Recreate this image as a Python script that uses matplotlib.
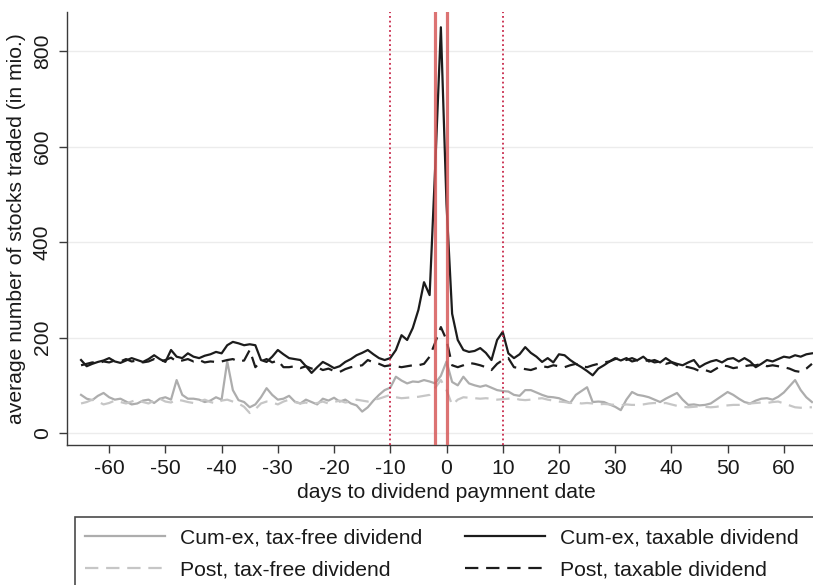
import numpy as np
import matplotlib
matplotlib.use("Agg")
import matplotlib.pyplot as plt
from matplotlib.patches import Rectangle

plt.rcParams['font.family'] = ['Liberation Sans', 'DejaVu Sans']
plt.rcParams['axes.unicode_minus'] = False

days = list(range(-65, 66))

cumex_taxable = [
    153, 140, 145, 149, 152, 157, 150, 147, 152, 157,
    153, 149, 155, 163, 155, 149, 174, 160, 157, 167,
    160, 157, 162, 165, 170, 167, 184, 191, 188, 184,
    186, 184, 153, 149, 160, 174, 165, 157, 155, 153,
    140, 126, 138, 149, 143, 136, 140, 149, 155, 163,
    168, 174, 165, 157, 153, 157, 174, 205, 195, 220,
    258, 316, 289, 560, 850, 480, 250, 195, 174, 170,
    172, 178, 168, 153, 195, 212, 167, 157, 165, 180,
    168, 160, 149, 157, 148, 165, 163, 153, 145, 138,
    130, 121, 135, 142, 150, 157, 152, 157, 150, 153,
    160, 150, 153, 148, 157, 149, 145, 142, 148, 153,
    138, 145, 150, 153, 148, 155, 157, 150, 157, 150,
    138, 145, 153, 150, 155, 160, 158, 163, 160, 165,
    167]

post_taxable = [
    142, 145, 148, 146, 150, 148, 152, 150, 155, 150,
    152, 148, 150, 155, 150, 153, 158, 150, 152, 155,
    150, 153, 148, 150, 149, 150, 153, 155, 150, 152,
    174, 138, 150, 155, 148, 152, 138, 138, 140, 136,
    140, 135, 138, 132, 135, 130, 128, 134, 138, 140,
    142, 153, 148, 145, 140, 142, 140, 138, 140, 142,
    142, 145, 160, 190, 222, 195, 142, 138, 142, 147,
    145, 142, 138, 132, 145, 153, 157, 138, 136, 134,
    132, 136, 140, 138, 142, 140, 138, 142, 145, 140,
    138, 142, 145, 148, 150, 155, 157, 153, 157, 152,
    150, 153, 148, 150, 145, 148, 142, 140, 138, 135,
    130, 132, 128, 135, 142, 140, 136, 138, 140, 142,
    142, 145, 140, 142, 140, 138, 135, 130, 128, 135,
    145]

cumex_taxfree = [
    80, 72, 69, 78, 84, 75, 70, 72, 66, 60,
    62, 68, 70, 63, 72, 75, 70, 111, 80, 72,
    72, 70, 65, 68, 75, 70, 150, 90, 69, 65,
    54, 60, 75, 94, 80, 70, 72, 78, 66, 62,
    70, 65, 60, 72, 68, 74, 66, 70, 62, 58,
    45, 54, 68, 80, 90, 95, 118, 110, 104, 108,
    107, 111, 108, 104, 120, 150, 107, 100, 118, 104,
    100, 97, 100, 95, 90, 88, 87, 80, 78, 90,
    90, 85, 80, 76, 75, 73, 68, 63, 80, 88,
    96, 65, 66, 65, 60, 55, 48, 70, 86, 80,
    78, 75, 70, 65, 72, 78, 84, 70, 59, 60,
    58, 59, 62, 70, 78, 86, 80, 72, 65, 62,
    68, 72, 73, 70, 76, 85, 98, 111, 90, 75,
    65]

post_taxfree = [
    62, 65, 70, 66, 60, 63, 68, 65, 62, 66,
    70, 65, 62, 68, 72, 66, 64, 70, 68, 65,
    63, 66, 70, 65, 62, 68, 70, 66, 62, 55,
    42, 50, 62, 66, 64, 60, 66, 70, 65, 62,
    64, 60, 63, 66, 62, 65, 68, 64, 66, 70,
    68, 66, 70, 72, 76, 80, 75, 73, 74, 75,
    76, 78, 80, 95, 111, 90, 59, 70, 75, 74,
    73, 72, 73, 72, 70, 71, 72, 73, 70, 69,
    70, 72, 73, 70, 68, 66, 65, 63, 64, 62,
    63, 62, 60, 61, 60, 59, 58, 60, 59, 59,
    60, 62, 63, 62, 63, 60, 57, 55, 54, 55,
    56, 55, 54, 55, 57, 58, 59, 59, 60, 62,
    63, 64, 63, 65, 66, 62, 58, 54, 53, 54,
    54]

solid_event_days = [-2, 0]
dotted_event_days = [-10, 10]
xticks = list(range(-60, 61, 10))
yticks = [0, 200, 400, 600, 800]
labels = ["Cum-ex, tax-free dividend", "Post, tax-free dividend",
          "Cum-ex, taxable dividend", "Post, taxable dividend"]

W, H = 813, 585
fig = plt.figure(figsize=(W / 100, H / 100), dpi=100)
ax = fig.add_axes([67 / W, (H - 445) / H, (826 - 67) / W, (445 - 12) / H])

FS = 15.2
dash = (0, (6, 3.5))

l1, = ax.plot(days, cumex_taxfree, color='#adadad', lw=1.6, zorder=3)
l2, = ax.plot(days, post_taxfree, color='#c6c6c6', lw=1.6, linestyle=dash, zorder=3)
l3, = ax.plot(days, cumex_taxable, color='#1c1c1c', lw=1.6, zorder=4)
l4, = ax.plot(days, post_taxable, color='#1c1c1c', lw=1.6, linestyle=dash, zorder=4)

for d in solid_event_days:
    ax.axvline(d, color='#d65a5a', lw=2.3, alpha=0.85, zorder=5)
for d in dotted_event_days:
    ax.axvline(d, color='#c8284a', lw=1.3, linestyle=(0, (1, 1.6)), zorder=5)

ax.set_xlim(-67.5, 67.5)
ax.set_ylim(-25, 882)
ax.set_xticks(xticks)
ax.set_yticks(yticks)
ax.grid(axis='y', color='#ececec', lw=1.0, zorder=0)
ax.set_axisbelow(True)

for s in ['top', 'right']:
    ax.spines[s].set_visible(False)
for s in ['left', 'bottom']:
    ax.spines[s].set_color('#3a3a3a')
    ax.spines[s].set_linewidth(1.0)

ax.tick_params(axis='both', direction='out', length=6, width=1.0, color='#3a3a3a',
               labelsize=FS, labelcolor='#1a1a1a')
ax.tick_params(axis='x', pad=4)
ax.tick_params(axis='y', pad=5, labelrotation=90)
for t in ax.get_yticklabels():
    t.set_va('center')

ax.set_xlabel("days to dividend paymnent date", fontsize=FS, color='#1a1a1a')
ax.xaxis.set_label_coords(0.5, (492 - 445) / -(445 - 12))
ax.xaxis.label.set_va('center')
ax.set_ylabel("average number of stocks traded (in mio.)", fontsize=FS, color='#1a1a1a')
ax.yaxis.set_label_coords((17 - 67) / (826 - 67), 0.5)
ax.yaxis.label.set_va('center')

# legend frame
fig.patches.append(Rectangle((75 / W, -0.1), 1.0, (H - 517) / H + 0.1,
                             transform=fig.transFigure, facecolor='white',
                             edgecolor='#4a4a4a', lw=1.2, zorder=1))

common = dict(frameon=False, fontsize=FS, handlelength=3.8, handletextpad=0.71,
              borderpad=0, borderaxespad=0, labelspacing=0.62, loc='upper left')
leg1 = fig.legend([l1, l2], labels[:2], bbox_to_anchor=(85 / W, (H - 528) / H), **common)
leg2 = fig.legend([l3, l4], labels[2:], bbox_to_anchor=(465 / W, (H - 528) / H), **common)
for lg in (leg1, leg2):
    for t in lg.get_texts():
        t.set_color('#1a1a1a')

fig.savefig("out.png", dpi=100)
